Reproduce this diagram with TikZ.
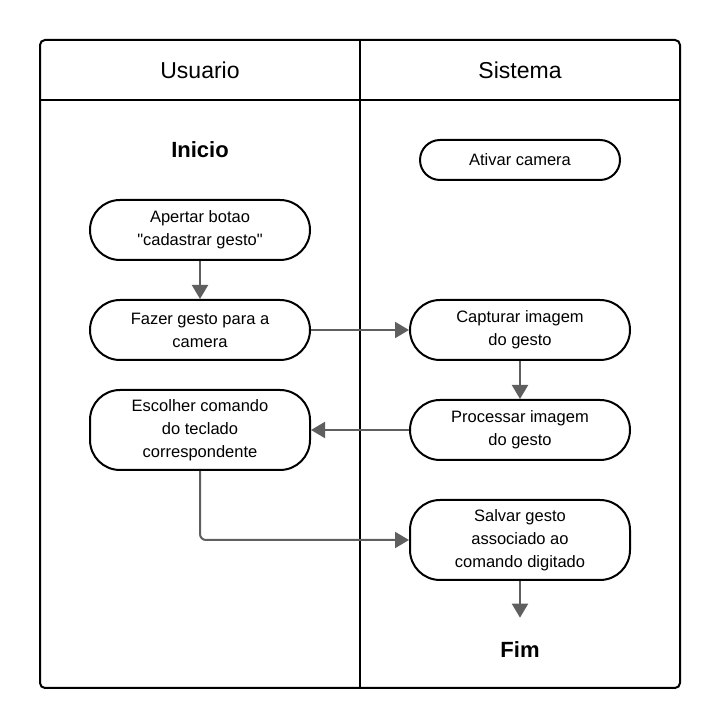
\documentclass[tikz,border=0pt]{standalone}
\usepackage{fontspec}
\setmainfont{Liberation Sans}
\usepackage{tikz}
\usetikzlibrary{arrows.meta}

\definecolor{flowgray}{HTML}{5F5F5F}

\begin{document}
\begin{tikzpicture}[x=1pt,y=1pt,>={Triangle[length=14pt,width=16pt]},
  node distance=100pt,line width=2pt,
  lane node/.style={font=\fontsize{23}{26}\selectfont},
  term node/.style={font=\fontsize{22}{26}\selectfont\bfseries},
  act node/.style={draw=black,fill=white,rounded corners=30pt,align=center,
    minimum width=220pt,minimum height=60pt,inner sep=0pt,
    font=\fontsize{16.5}{23}\selectfont},
  flow arrow/.style={->,draw=flowgray,line width=2pt}]
  \useasboundingbox (0,0) rectangle (720,728);
  % pool and lanes
  \draw[rounded corners=5pt] (40,40) rectangle (680,688);
  \draw (40,628) -- (680,628);
  \draw (360,40) -- (360,688);
  \node[lane node] (usuario) at (200,658) {Usuario};
  \node[lane node] (sistema) at (520,658) {Sistema};

  % Usuario lane
  \node[term node] (inicio) at (200,578) {Inicio};
  \node[act node]  (apertar) [below of=inicio,node distance=80pt] {Apertar botao\\\textquotedbl cadastrar gesto\textquotedbl};
  \node[act node]  (fazer) [below of=apertar] {Fazer gesto para a\\camera};
  \node[act node,minimum height=80pt] (escolher) [below of=fazer] {Escolher comando\\do teclado\\correspondente};

  % Sistema lane
  \node[act node,minimum width=200pt,minimum height=40pt,rounded corners=20pt] (ativar) at (520,568) {Ativar camera};
  \node[act node]  (capturar) [below of=ativar,node distance=170pt] {Capturar imagem\\do gesto};
  \node[act node]  (processar) [below of=capturar] {Processar imagem\\do gesto};
  \node[act node,minimum height=80pt] (salvar) [below of=processar,node distance=110pt] {Salvar gesto\\associado ao\\comando digitado};
  \node[term node] (fim) [below of=salvar,node distance=110pt] {Fim};

  % flows
  \draw[flow arrow] (apertar) -- (fazer);
  \draw[flow arrow] (fazer) -- (capturar);
  \draw[flow arrow] (capturar) -- (processar);
  \draw[flow arrow] (processar) -- (escolher);
  \draw[flow arrow,rounded corners=6pt] (escolher) |- (salvar);
  \draw[flow arrow,shorten >=20pt] (salvar) -- (fim);
\end{tikzpicture}
\end{document}
